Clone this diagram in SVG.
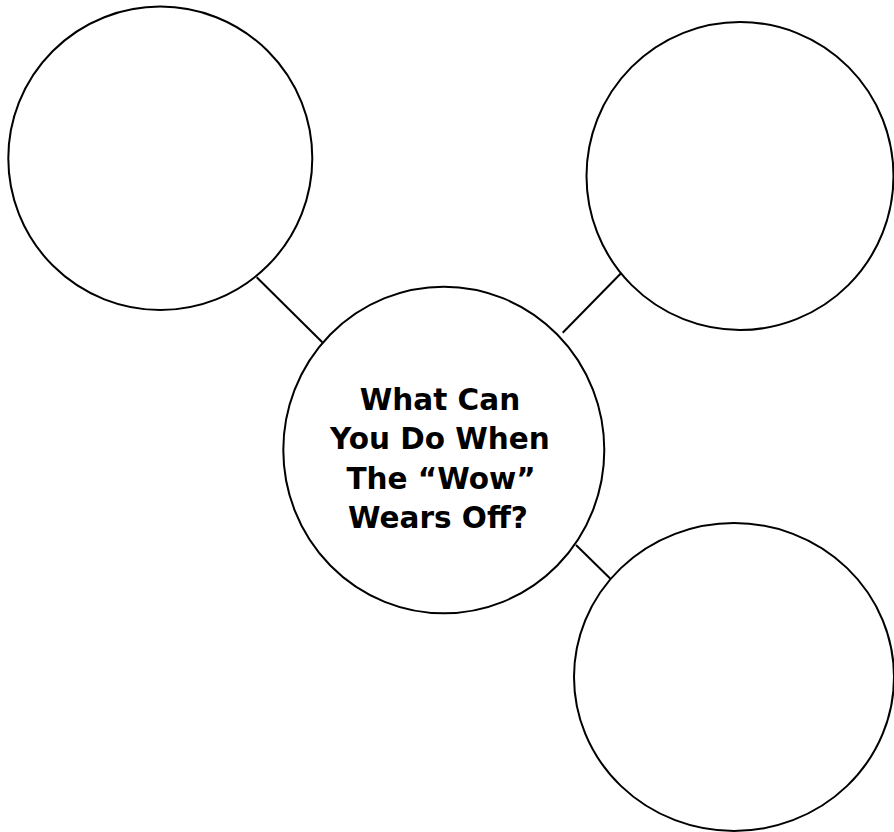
<svg xmlns="http://www.w3.org/2000/svg" width="894" height="832" viewBox="0 0 894 832">
<style>
.node{fill:#fff;stroke:#000;stroke-width:2}
.conn{stroke:#000;stroke-width:2;fill:none}
.lbl{font-family:"DejaVu Sans",Verdana,sans-serif;font-weight:bold;font-size:29.5px;fill:#000;text-anchor:middle}
</style>
<rect width="894" height="832" fill="#fff"/>
<g id="connectors">
<line class="conn" x1="256.7" y1="277.3" x2="322.3" y2="342.3"/>
<line class="conn" x1="621" y1="273.3" x2="562.7" y2="332.7"/>
<line class="conn" x1="576" y1="545" x2="611.7" y2="580"/>
</g>
<g id="node-top-left"><ellipse class="node" cx="160.3" cy="158.3" rx="152" ry="151.7"/></g>
<g id="node-top-right"><ellipse class="node" cx="740" cy="176" rx="153.5" ry="154"/></g>
<g id="node-bottom-right"><ellipse class="node" cx="734" cy="677" rx="160" ry="154"/></g>
<g id="node-center">
<ellipse class="node" cx="443.8" cy="450" rx="160.5" ry="163.3"/>
<text class="lbl" x="440" y="410">What Can</text>
<text class="lbl" x="440" y="449">You Do When</text>
<text class="lbl" x="441" y="489">The “Wow”</text>
<text class="lbl" x="438" y="528">Wears Off?</text>
</g>
</svg>
